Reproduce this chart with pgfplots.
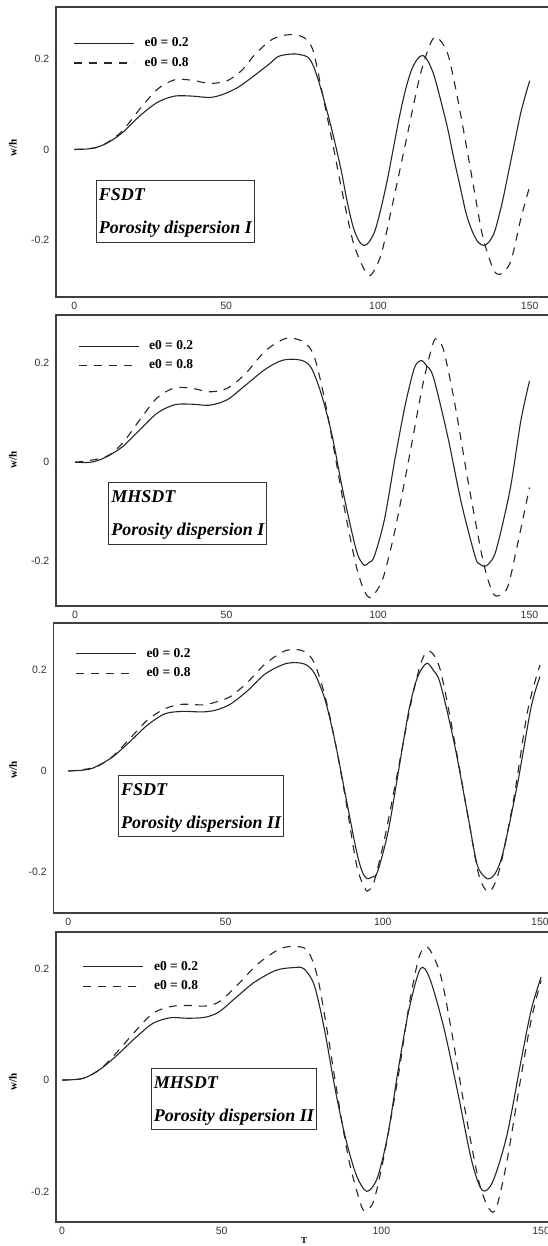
\documentclass[border=0pt]{standalone}
\usepackage{fontspec}
\setmainfont{Liberation Serif}
\newfontfamily\ticksans{Liberation Sans}
\usepackage{pgfplots}
\pgfplotsset{compat=1.18}

% pixel-like layout: 1pt = 1px of the 548x1246 reference
\pgfplotsset{
  panel/.style={
    scale only axis, anchor=south west,
    width=495pt, height=290pt,
    xtick={0,50,100,150}, xticklabels={0,50,100,150},
    ytick={-0.2,0,0.2}, yticklabels={-0.2,0,0.2},
    major tick length=0pt,
    tick label style={font=\ticksans\fontsize{10.5}{12}\selectfont, text=black!80},
    xticklabel style={inner sep=0pt, yshift=-5pt},
    yticklabel style={inner sep=0pt, xshift=-6.5pt},
    axis line style={black!75, line width=1.1pt},
    ylabel={\bfseries w/h},
    label style={font=\fontsize{11}{12}\selectfont},
    legend cell align=left,
    legend image code/.code={\draw[#1] (0pt,0pt) -- (60pt,0pt);},
    legend style={draw=none, fill=none, anchor=north west, inner sep=0pt,
      column sep=10pt, row sep=0pt,
      font=\bfseries\fontsize{13.5}{15}\selectfont,
      nodes={inner xsep=0pt, inner ysep=3.45pt, text height=9.5pt, text depth=3pt}},
  },
  sol/.style={black!85, line width=1.1pt, smooth, tension=0.5},
  das/.style={black!85, line width=1.1pt, smooth, tension=0.5, dash pattern=on 8pt off 7pt},
}
\tikzset{tbox/.style={draw=black!80, line width=0.9pt, anchor=north west, align=left,
  inner xsep=2.5pt, inner ysep=4.5pt,
  font=\bfseries\itshape\fontsize{18}{33.3}\selectfont}}

\begin{document}
\begin{tikzpicture}
\path[use as bounding box] (0pt,0pt) rectangle (548pt,1246pt);

% ---- panel 1: FSDT, dispersion I
\begin{axis}[panel, at={(56pt,949pt)},
  xmin=-6.06, xmax=157.0, ymin=-0.326, ymax=0.315,
  ylabel style={at={(axis description cs:-0.087,0.514)}, anchor=center},
  legend style={at={(axis description cs:0.035,0.908)}}]
\addplot[sol] coordinates {(0,0) (4,0.001) (7,0.004) (11,0.015) (15.8,0.037) (21.5,0.074) (27.3,0.104) (33,0.118) (38.8,0.118) (44.6,0.115) (49,0.122) (53.8,0.137) (58.4,0.159) (64.2,0.189) (67,0.205) (70,0.21) (73,0.211) (76,0.207) (77.5,0.2) (79,0.18) (80.5,0.15) (82,0.115) (84,0.065) (86,0.01) (88,-0.05) (90,-0.12) (92,-0.175) (94,-0.205) (95.5,-0.212) (97,-0.205) (99,-0.18) (101,-0.13) (103,-0.07) (105,0.0) (107,0.07) (109,0.13) (111,0.175) (113,0.2) (114.8,0.208) (116.5,0.195) (118.5,0.163) (121,0.1) (123,0.045) (125,-0.02) (127,-0.08) (129,-0.14) (131,-0.18) (133,-0.205) (134.8,-0.212) (136.5,-0.205) (138.5,-0.18) (141,-0.115) (143,-0.05) (145,0.015) (147,0.08) (149,0.13) (150,0.152)};
\addlegendentry{e0 = 0.2}
\addplot[das] coordinates {(0,0) (7,0.004) (11,0.016) (15.8,0.041) (21.5,0.089) (27.3,0.133) (33,0.154) (38.8,0.153) (44.6,0.146) (50.3,0.152) (55,0.174) (59.6,0.211) (65.3,0.244) (71.1,0.254) (75.7,0.247) (78.6,0.219) (81.5,0.13) (84.9,0.019) (88.4,-0.1) (91.8,-0.204) (95.3,-0.263) (97.6,-0.278) (101,-0.233) (104.5,-0.13) (109,0.011) (113.7,0.159) (117.2,0.233) (119.4,0.248) (123,0.211) (126.4,0.107) (131,-0.063) (134.4,-0.189) (137.9,-0.263) (140.2,-0.276) (143.7,-0.248) (147.1,-0.152) (150,-0.081)};
\addlegendentry{e0 = 0.8}
\end{axis}

% ---- panel 2: MHSDT, dispersion I
\begin{axis}[panel, at={(56pt,640pt)}, height=291pt,
  xmin=-6.3, xmax=157.1, ymin=-0.29, ymax=0.297,
  ylabel style={at={(axis description cs:-0.087,0.502)}, anchor=center},
  legend style={at={(axis description cs:0.044,0.927)}}]
\addplot[sol] coordinates {(0,0) (5.2,0) (9.8,0.009) (15.6,0.031) (21.3,0.065) (27.1,0.099) (32.9,0.116) (38.7,0.117) (44.4,0.115) (50.2,0.126) (56,0.154) (62.9,0.188) (68.7,0.206) (74.4,0.206) (77.9,0.191) (81.3,0.137) (84.8,0.055) (88.3,-0.055) (91.7,-0.15) (93.5,-0.19) (95.5,-0.208) (97,-0.202) (98.7,-0.191) (102.1,-0.116) (105.6,0.007) (109,0.116) (112,0.19) (114.2,0.205) (116,0.195) (118.3,0.171) (122.9,0.055) (127.5,-0.082) (132.1,-0.191) (133.5,-0.205) (135,-0.21) (136.5,-0.205) (139,-0.177) (143.6,-0.055) (147.1,0.082) (150,0.164)};
\addlegendentry{e0 = 0.2}
\addplot[das] coordinates {(0,0) (9.8,0.01) (15.6,0.038) (21.3,0.085) (27.1,0.13) (32.9,0.15) (38.7,0.149) (44.4,0.142) (50.2,0.149) (56,0.177) (62.9,0.225) (69.8,0.25) (75.6,0.242) (79,0.212) (82.5,0.123) (86,0.007) (89.4,-0.109) (92.9,-0.212) (95.5,-0.26) (97.5,-0.273) (100,-0.255) (102.1,-0.225) (105.6,-0.137) (110.2,0.007) (114.8,0.157) (118.3,0.242) (119.8,0.245) (121.7,0.225) (125.2,0.123) (129.8,-0.041) (134.4,-0.191) (137,-0.25) (139,-0.27) (142.7,-0.253) (146.1,-0.164) (150,-0.051)};
\addlegendentry{e0 = 0.8}
\end{axis}

% ---- panel 3: FSDT, dispersion II
\begin{axis}[panel, at={(53.3pt,333pt)}, width=497.7pt,
  xmin=-4.77, xmax=153.5, ymin=-0.281, ymax=0.293,
  ylabel style={at={(axis description cs:-0.081,0.493)}, anchor=center},
  legend style={at={(axis description cs:0.044,0.928)}}]
\addplot[sol] coordinates {(0,0) (5,0.002) (8.3,0.007) (13.9,0.027) (19.4,0.057) (25,0.09) (30.6,0.113) (36.1,0.118) (42.8,0.117) (47.2,0.121) (51.7,0.133) (57.2,0.16) (62.8,0.193) (69.4,0.213) (75,0.212) (78.3,0.193) (81.7,0.14) (85,0.053) (88.3,-0.053) (91.7,-0.16) (93.5,-0.2) (95,-0.213) (96.5,-0.21) (98.3,-0.2) (101.7,-0.12) (105,0) (108.3,0.12) (111,0.185) (113.9,0.213) (116,0.2) (118.3,0.173) (122.8,0.053) (127.2,-0.093) (130,-0.185) (132.5,-0.21) (134,-0.213) (136,-0.2) (138.3,-0.16) (142.8,-0.027) (147.2,0.127) (150,0.187)};
\addlegendentry{e0 = 0.2}
\addplot[das] coordinates {(0,0) (8.3,0.007) (13.9,0.028) (19.4,0.063) (25,0.1) (30.6,0.123) (36.1,0.132) (42.8,0.131) (47.2,0.137) (51.7,0.148) (57.2,0.177) (62.8,0.213) (69.4,0.239) (75,0.237) (78.3,0.213) (81.7,0.147) (85,0.053) (88.3,-0.06) (91.7,-0.187) (94.4,-0.233) (95.5,-0.236) (97.2,-0.22) (100.6,-0.133) (105,0.007) (109.4,0.147) (112.5,0.22) (115,0.237) (118.3,0.2) (122.8,0.06) (127.2,-0.093) (130.6,-0.207) (133.9,-0.239) (137.2,-0.193) (141.7,-0.053) (146.1,0.12) (150,0.21)};
\addlegendentry{e0 = 0.8}
\end{axis}

% ---- panel 4: MHSDT, dispersion II
\begin{axis}[panel, at={(56pt,24pt)},
  xmin=-1.88, xmax=153.1, ymin=-0.255, ymax=0.266,
  ylabel style={at={(axis description cs:-0.087,0.484)}, anchor=center},
  xlabel={\bfseries T},
  xlabel style={at={(axis description cs:0.501,-0.0655)}, anchor=center, font=\fontsize{9}{10}\selectfont},
  legend style={at={(axis description cs:0.054,0.914)}}]
\addplot[sol] coordinates {(0,0) (6.6,0.003) (12.1,0.02) (17.5,0.046) (23,0.076) (28.5,0.102) (34,0.112) (39.5,0.111) (45,0.113) (49.3,0.123) (54.8,0.15) (60.3,0.176) (66.9,0.197) (72.4,0.202) (75.7,0.2) (79,0.17) (82.2,0.09) (85.5,-0.016) (88.8,-0.105) (92.1,-0.17) (95.4,-0.2) (98.7,-0.176) (102,-0.099) (105.3,0.02) (108.6,0.126) (112.2,0.2) (115.1,0.183) (119.5,0.095) (123.9,-0.022) (128.3,-0.146) (131.6,-0.198) (134.9,-0.182) (139.3,-0.099) (143.6,0.031) (146.9,0.126) (150,0.185)};
\addlegendentry{e0 = 0.2}
\addplot[das] coordinates {(0,0) (6.6,0.003) (12.1,0.02) (17.5,0.052) (23,0.088) (28.5,0.12) (34,0.132) (39.5,0.134) (45,0.133) (49.3,0.141) (54.8,0.17) (61.4,0.209) (68,0.235) (72.4,0.24) (76.8,0.233) (80,0.185) (83.3,0.079) (86.6,-0.04) (89.9,-0.146) (93.2,-0.217) (94.8,-0.235) (97.6,-0.217) (100.9,-0.134) (105.3,0.008) (108.6,0.132) (111.8,0.221) (114.6,0.238) (118.4,0.191) (121.7,0.096) (126.1,-0.051) (130.5,-0.182) (133.8,-0.232) (136,-0.229) (139.3,-0.146) (143.6,0.002) (146.9,0.108) (150,0.179)};
\addlegendentry{e0 = 0.8}
\end{axis}

% ---- text boxes (annotations)
\node[tbox] at (96pt,1066pt) {\rule{0pt}{15.5pt}FSDT\\Porosity dispersion I};
\node[tbox] at (108.4pt,764pt) {\rule{0pt}{15.5pt}MHSDT\\Porosity dispersion I};
\node[tbox] at (118.2pt,471.3pt) {\rule{0pt}{15.5pt}FSDT\\Porosity dispersion II};
\node[tbox] at (151pt,178.3pt) {\rule{0pt}{15.5pt}MHSDT\\Porosity dispersion II};
\end{tikzpicture}
\end{document}
